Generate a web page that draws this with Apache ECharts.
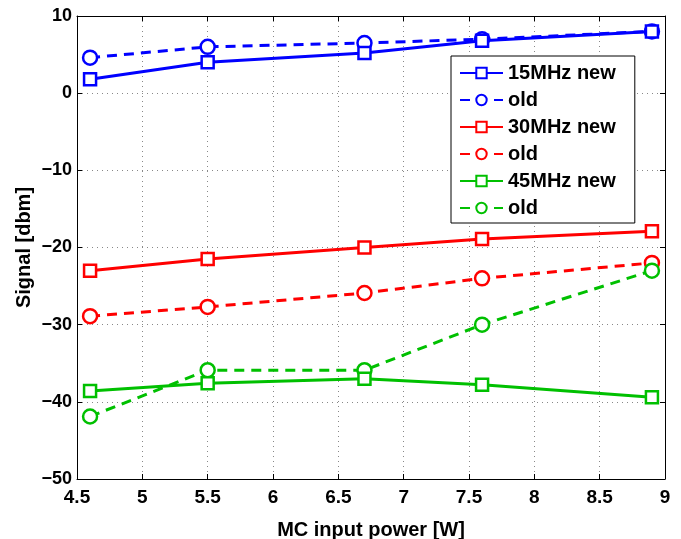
<!DOCTYPE html>
<html><head><meta charset="utf-8">
<script src="https://cdn.jsdelivr.net/npm/echarts@6/dist/echarts.min.js"></script>
<style>html,body{margin:0;padding:0;background:#fff}#c{width:681px;height:539px}</style>
</head><body><div id="c"></div>
<script>
const xValues = [4.6, 5.5, 6.7, 7.6, 8.9];
const new15 = [1.8, 4.0, 5.2, 6.8, 8.0];
const old15 = [4.6, 6.0, 6.5, 7.0, 8.0];
const new30 = [-23.0, -21.5, -20.0, -18.9, -17.9];
const old30 = [-28.9, -27.7, -25.9, -24.0, -22.0];
const new45 = [-38.6, -37.6, -37.0, -37.8, -39.4];
const old45 = [-41.9, -35.9, -35.9, -30.0, -23.0];
const seriesNames = ['15MHz new', 'old', '30MHz new', 'old ', '45MHz new', 'old  '];
const xLabel = 'MC input power [W]';
const yLabel = 'Signal [dbm]';

const FONT = 'Liberation Sans, Arial, sans-serif';
const pairs = (ys) => xValues.map((x, i) => [x, ys[i]]);
function mk(name, ys, color, dashed) {
  return {
    name, type: 'line', data: pairs(ys),
    symbol: dashed ? 'circle' : 'rect',
    symbolSize: dashed ? 14 : 12,
    showAllSymbol: true,
    lineStyle: { color, width: 3, type: dashed ? [10, 7] : 'solid' },
    itemStyle: { color: '#fff', borderColor: color, borderWidth: 2.5 },
    emphasis: { disabled: true },
    z: dashed ? 3 : 4
  };
}
const chart = echarts.init(document.getElementById('c'), null, { renderer: 'canvas' });
const minus = v => String(v).replace('-', '\u2212');
chart.setOption({
  animation: false,
  backgroundColor: '#fff',
  grid: { left: 77, right: 16, top: 16, bottom: 60, show: false, containLabel: false, outerBoundsMode: 'none' },
  xAxis: [{
    type: 'value', min: 4.5, max: 9, interval: 0.5,
    name: xLabel, nameLocation: 'middle', nameGap: 41, nameMoveOverlap: false,
    nameTextStyle: { fontFamily: FONT, fontWeight: 'bold', fontSize: 20, color: '#000' },
    axisLine: { show: true, onZero: false, lineStyle: { color: '#000', width: 1 } },
    axisTick: { show: true, inside: true, length: 5, lineStyle: { color: '#000' } },
    axisLabel: { fontFamily: FONT, fontWeight: 'bold', fontSize: 19, color: '#000', margin: 9 },
    splitLine: { show: true, lineStyle: { color: '#888', type: [1, 4], width: 1 } }
  }, {
    type: 'value', min: 4.5, max: 9, interval: 0.5, position: 'top',
    axisLine: { show: true, onZero: false, lineStyle: { color: '#000', width: 1 } },
    axisTick: { show: true, inside: true, length: 5, lineStyle: { color: '#000' } },
    axisLabel: { show: false }, splitLine: { show: false }
  }],
  yAxis: [{
    type: 'value', min: -50, max: 10, interval: 10,
    name: yLabel, nameLocation: 'middle', nameGap: 43, nameRotate: 90, nameMoveOverlap: false,
    nameTextStyle: { fontFamily: FONT, fontWeight: 'bold', fontSize: 20, color: '#000' },
    axisLine: { show: true, onZero: false, lineStyle: { color: '#000', width: 1 } },
    axisTick: { show: true, inside: true, length: 5, lineStyle: { color: '#000' } },
    axisLabel: { fontFamily: FONT, fontWeight: 'bold', fontSize: 18, color: '#000', margin: 5, formatter: minus },
    splitLine: { show: true, lineStyle: { color: '#888', type: [1, 4], width: 1 } }
  }, {
    type: 'value', min: -50, max: 10, interval: 10, position: 'right',
    axisLine: { show: true, onZero: false, lineStyle: { color: '#000', width: 1 } },
    axisTick: { show: true, inside: true, length: 5, lineStyle: { color: '#000' } },
    axisLabel: { show: false }, splitLine: { show: false }
  }],
  legend: {
    orient: 'vertical', left: 451, top: 56,
    padding: [7, 19, 5, 8], itemGap: 7, itemWidth: 43, itemHeight: 13,
    backgroundColor: '#fff', borderColor: '#000', borderWidth: 1,
    textStyle: { fontFamily: FONT, fontWeight: 'bold', fontSize: 20, color: '#000', lineHeight: 20 },
    data: seriesNames, selectedMode: false
  },
  series: [
    mk(seriesNames[0], new15, '#0000ff', false),
    mk(seriesNames[1], old15, '#0000ff', true),
    mk(seriesNames[2], new30, '#ff0000', false),
    mk(seriesNames[3], old30, '#ff0000', true),
    mk(seriesNames[4], new45, '#00c000', false),
    mk(seriesNames[5], old45, '#00c000', true)
  ]
});
</script></body></html>
